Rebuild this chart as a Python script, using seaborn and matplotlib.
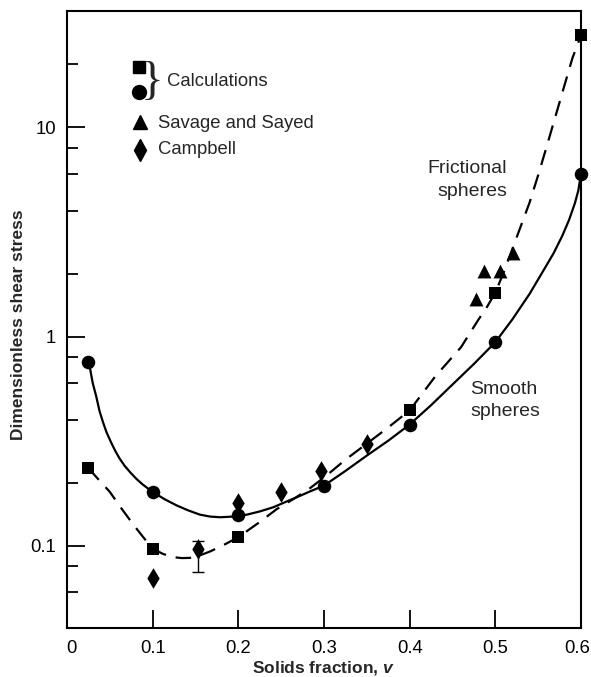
import numpy as np
import pandas as pd
import matplotlib
matplotlib.use("Agg")
import matplotlib.pyplot as plt
import matplotlib.transforms as mtrans
import seaborn as sns

# ---------------- data ----------------
# Calculations, smooth spheres (circles)
smooth_x = [0.025, 0.1, 0.2, 0.3, 0.4, 0.5, 0.6]
smooth_y = [0.76, 0.181, 0.14, 0.194, 0.38, 0.94, 6.0]
# Calculations, frictional spheres (squares)
fric_x = [0.025, 0.1, 0.2, 0.4, 0.5, 0.6]
fric_y = [0.235, 0.097, 0.11, 0.444, 1.62, 27.5]
# Savage and Sayed (triangles)
savage_x = [0.477, 0.487, 0.506, 0.521]
savage_y = [1.52, 2.05, 2.05, 2.5]
# Campbell (diamonds)
campbell_x = [0.1, 0.153, 0.2, 0.25, 0.297, 0.35]
campbell_y = [0.070, 0.097, 0.16, 0.181, 0.229, 0.308]
# Campbell error bar
err_x = [0.153]
err_lo = [0.0748]
err_hi = [0.106]

# fitted curves
smooth_curve_x = [0.025, 0.027, 0.030, 0.034, 0.038, 0.042, 0.046, 0.051,
                  0.056, 0.061, 0.067, 0.074, 0.081, 0.088, 0.0945, 0.100,
                  0.114, 0.128, 0.141, 0.155, 0.167, 0.179, 0.194, 0.21,
                  0.225, 0.241, 0.255, 0.27, 0.285, 0.30, 0.325, 0.35,
                  0.375, 0.40, 0.425, 0.45, 0.475, 0.50, 0.52, 0.54, 0.555,
                  0.568, 0.578, 0.586, 0.593, 0.597, 0.60]
smooth_curve_y = [0.76, 0.70, 0.60, 0.52, 0.44, 0.39, 0.35, 0.315,
                  0.286, 0.263, 0.242, 0.224, 0.209, 0.197, 0.188, 0.181,
                  0.167, 0.156, 0.148, 0.141, 0.138, 0.137, 0.138, 0.141,
                  0.146, 0.153, 0.162, 0.172, 0.183, 0.194, 0.228, 0.27,
                  0.318, 0.38, 0.47, 0.59, 0.74, 0.94, 1.21, 1.60, 2.03,
                  2.50, 3.02, 3.60, 4.35, 5.0, 6.0]
fric_curve_x = [0.025, 0.037, 0.050, 0.063, 0.077, 0.089, 0.100, 0.112,
                0.124, 0.134, 0.1435, 0.155, 0.167, 0.183, 0.20, 0.225,
                0.245, 0.265, 0.284, 0.303, 0.325, 0.35, 0.375, 0.40, 0.43,
                0.46, 0.48, 0.49, 0.50, 0.51, 0.52, 0.53, 0.54, 0.55, 0.56,
                0.57, 0.58, 0.59, 0.60]
fric_curve_y = [0.235, 0.207, 0.181, 0.152, 0.127, 0.110, 0.097, 0.0915,
                0.0883, 0.0874, 0.0876, 0.090, 0.094, 0.101, 0.11, 0.13,
                0.15, 0.168, 0.189, 0.217, 0.258, 0.308, 0.368, 0.444, 0.646,
                0.89, 1.2, 1.38, 1.62, 2.04, 2.63, 3.39, 4.37, 5.9, 8.1,
                11.2, 15.5, 21.4, 27.5]

x_ticks = [0, 0.1, 0.2, 0.3, 0.4, 0.5, 0.6]
x_tick_labels = ["0", "0.1", "0.2", "0.3", "0.4", "0.5", "0.6"]
y_ticks = [0.1, 1, 10]
y_tick_labels = ["0.1", "1", "10"]
y_minor = [0.06, 0.08, 0.2, 0.4, 0.6, 0.8, 2, 4, 6, 8, 20]

# ---------------- styling ----------------
sns.set_style("ticks")
plt.rcParams["font.family"] = ["Liberation Sans", "DejaVu Sans"]
plt.rcParams["mathtext.fontset"] = "custom"
plt.rcParams["mathtext.it"] = "Liberation Sans:italic:bold"

fig = plt.figure(figsize=(5.91, 6.77), dpi=100)
ax = fig.add_axes([0.1134, 0.0724, 0.8696, 0.9114])

lw = 1.6
sns.lineplot(x=smooth_curve_x, y=smooth_curve_y, ax=ax, color="black",
             linewidth=lw, sort=True, errorbar=None)
sns.lineplot(x=fric_curve_x, y=fric_curve_y, ax=ax, color="black",
             linewidth=lw, sort=True, errorbar=None, linestyle=(0, (7, 4.5)))

mid = [(lo * hi) ** 0.5 for lo, hi in zip(err_lo, err_hi)]
ax.errorbar(err_x, mid,
            yerr=[[m - lo for m, lo in zip(mid, err_lo)],
                  [hi - m for m, hi in zip(mid, err_hi)]],
            fmt="none", ecolor="black", elinewidth=1.0, capsize=4, capthick=1.0)

sns.scatterplot(x=smooth_x, y=smooth_y, ax=ax, marker="o", color="black",
                s=95, edgecolor="black", linewidth=0, clip_on=False, zorder=5)
sns.scatterplot(x=fric_x, y=fric_y, ax=ax, marker="s", color="black",
                s=85, edgecolor="black", linewidth=0, clip_on=False, zorder=5)
sns.scatterplot(x=savage_x, y=savage_y, ax=ax, marker="^", color="black",
                s=100, edgecolor="black", linewidth=0, zorder=5)
sns.scatterplot(x=campbell_x, y=campbell_y, ax=ax, marker="d", color="black",
                s=110, edgecolor="black", linewidth=0, zorder=5)

ax.set_yscale("log")
ax.set_xlim(0, 0.6)
ax.set_ylim(0.0405, 36)

ax.set_xticks(x_ticks)
ax.set_xticklabels(x_tick_labels)
ax.set_yticks(y_ticks)
ax.set_yticklabels(y_tick_labels)
ax.set_yticks(y_minor, minor=True)
ax.yaxis.set_minor_formatter(matplotlib.ticker.NullFormatter())
ax.xaxis.set_minor_locator(matplotlib.ticker.NullLocator())

ax.tick_params(axis="both", which="major", direction="in", length=13,
               width=1.3, labelsize=13.3, color="black", labelcolor="black")
ax.tick_params(axis="y", which="minor", direction="in", length=8, width=1.3,
               color="black")
ax.tick_params(axis="x", which="major", pad=9)
ax.tick_params(axis="y", which="major", pad=8)

# nudge the end x tick labels as in the reference
xlabels = ax.get_xticklabels()
xlabels[0].set_transform(xlabels[0].get_transform() +
                         mtrans.ScaledTranslation(4 / 100, 0, fig.dpi_scale_trans))
xlabels[-1].set_transform(xlabels[-1].get_transform() +
                          mtrans.ScaledTranslation(-4 / 100, 0, fig.dpi_scale_trans))

for sp in ax.spines.values():
    sp.set_visible(True)
    sp.set_linewidth(1.5)
    sp.set_color("black")

ax.set_xlabel(r"Solids fraction, $\mathit{v}$", fontsize=12.5,
              fontweight="bold")
ax.set_ylabel("Dimensionless shear stress", fontsize=12.5, fontweight="bold")
ax.xaxis.set_label_coords(0.498, -0.050)
ax.yaxis.set_label_coords(-0.080, 0.491)

# annotations
ax.text(0.514, 5.6, "Frictional\nspheres", ha="right", va="center",
        fontsize=14, multialignment="right", linespacing=1.4)
ax.text(0.471, 0.494, "Smooth\nspheres", ha="left", va="center",
        fontsize=14, linespacing=1.4)

# hand-made legend
tr = ax.transAxes
ax.plot([0.140], [0.909], marker="s", color="black", markersize=9, transform=tr,
        linestyle="none", clip_on=False)
ax.plot([0.140], [0.868], marker="o", color="black", markersize=10, transform=tr,
        linestyle="none", clip_on=False)
ax.plot([0.142], [0.820], marker="^", color="black", markersize=10, transform=tr,
        linestyle="none", clip_on=False)
ax.plot([0.142], [0.774], marker="d", color="black", markersize=11,
        transform=tr, linestyle="none", clip_on=False)
ax.text(0.166, 0.884, "}", transform=tr, ha="center", va="center",
        fontsize=34, family="Liberation Serif")
ax.text(0.195, 0.885, "Calculations", transform=tr, ha="left", va="center",
        fontsize=13.3)
ax.text(0.177, 0.818, "Savage and Sayed", transform=tr, ha="left",
        va="center", fontsize=13.3)
ax.text(0.177, 0.775, "Campbell", transform=tr, ha="left", va="center",
        fontsize=13.3)

fig.savefig("out.png", dpi=100)
